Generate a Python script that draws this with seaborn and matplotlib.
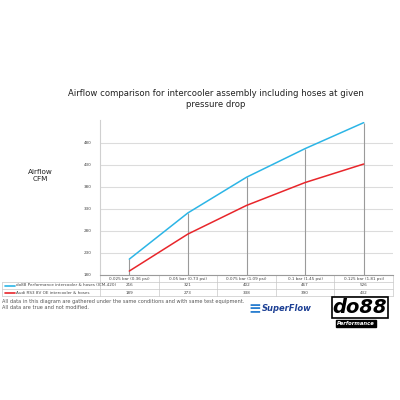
import matplotlib
matplotlib.use("Agg")
import matplotlib.pyplot as plt
import seaborn as sns
import pandas as pd
from matplotlib.lines import Line2D

sns.set_theme(style="white")
plt.rcParams['font.family'] = ['DejaVu Sans']

# data
categories = ["0.025 bar (0.36 psi)", "0.05 bar (0.73 psi)", "0.075 bar (1.09 psi)",
              "0.1 bar (1.45 psi)", "0.125 bar (1.81 psi)"]
do88_cfm = [216, 321, 402, 467, 526]
oe_cfm = [189, 273, 338, 390, 432]
series_names = ["do88 Performance intercooler & hoses (ICM-420)",
                "Audi RS3 8V OE intercooler & hoses"]
series_colors = ["#2cb5e6", "#e8262b"]
y_ticks = [180, 230, 280, 330, 380, 430, 480]

df = pd.DataFrame({
    "pos": list(range(len(categories))) * 2,
    "cfm": do88_cfm + oe_cfm,
    "series": [series_names[0]] * 5 + [series_names[1]] * 5,
})

fig = plt.figure(figsize=(4, 4), dpi=100)
ax = fig.add_axes([0.25, 0.3125, 0.7325, 0.3875])

# drop lines from the top series to the axis
ax.vlines(range(len(categories)), 180, do88_cfm, color="#9a9a9a", lw=0.8, zorder=1)

sns.lineplot(data=df, x="pos", y="cfm", hue="series", palette=series_colors,
             linewidth=1.1, legend=False, ax=ax, zorder=3)

ax.set_xlim(-0.5, len(categories) - 0.5)
ax.set_ylim(180, 532)
ax.set_yticks(y_ticks)
ax.set_yticklabels([str(v) for v in y_ticks], fontsize=3, color="#444444")
ax.tick_params(axis="y", length=0, pad=6)
ax.set_xticks(range(len(categories)))
ax.set_xticklabels(categories, fontsize=3, color="#444444")
ax.tick_params(axis="x", length=0, pad=1.5)
ax.set_xlabel("")
ax.set_ylabel("")
ax.grid(axis="y", color="#dcdcdc", lw=0.8)
for s in ["top", "right"]:
    ax.spines[s].set_visible(False)
ax.spines["left"].set_color("#d0d0d0")
ax.spines["bottom"].set_color("#9a9a9a")
ax.spines["left"].set_linewidth(0.8)
ax.spines["bottom"].set_linewidth(0.8)

# data table below the axis
tr = ax.get_xaxis_transform()
ax_h = 0.3875 * 400
def ay(py):
    # pixel row in figure -> axes fraction
    return (275 - py) / ax_h

left_edge = -2.17
row_lines = [282, 289, 296]
for py in row_lines:
    ax.add_line(Line2D([left_edge, 4.5], [ay(py), ay(py)], transform=tr,
                       color="#c8c8c8", lw=0.5, clip_on=False))
for i in range(len(categories) + 1):
    ax.add_line(Line2D([i - 0.5, i - 0.5], [ay(275), ay(296)], transform=tr,
                       color="#c8c8c8", lw=0.5, clip_on=False))
ax.add_line(Line2D([left_edge, left_edge], [ay(282), ay(296)], transform=tr,
                   color="#c8c8c8", lw=0.5, clip_on=False))

for row, (vals, name, col) in enumerate(zip([do88_cfm, oe_cfm], series_names, series_colors)):
    yy = ay(285.5 + row * 7)
    for i, v in enumerate(vals):
        ax.text(i, yy, str(v), transform=tr, fontsize=3, ha="center", va="center",
                color="#444444")
    ax.add_line(Line2D([-2.12, -1.95], [yy, yy], transform=tr, color=col, lw=1.2,
                       clip_on=False))
    ax.text(-1.93, yy, name, transform=tr, fontsize=3, ha="left", va="center",
            color="#444444")

# titles and notes
fig.text(0.54, 0.753, "Airflow comparison for intercooler assembly including hoses at given\npressure drop",
         ha="center", va="center", fontsize=6.1, color="#222222", linespacing=1.3)
fig.text(0.102, 0.56, "Airflow\nCFM", ha="center", va="center", fontsize=5.2,
         color="#222222", linespacing=1.2)
fig.text(0.005, 0.238, "All data in this diagram are gathered under the same conditions and with same test equipment.\nAll data are true and not modified.",
         ha="left", va="center", fontsize=3.6, color="#555555", linespacing=1.3)

# logos (as text)
fig.text(0.655, 0.228, "SuperFlow", ha="left", va="center", fontsize=6,
         fontweight="bold", style="italic", color="#1c3f94")
fig.text(0.622, 0.228, "≡", ha="left", va="center", fontsize=11,
         fontweight="bold", style="italic", color="#2a7fd0")
fig.text(0.9, 0.232, "do88", ha="center", va="center", fontsize=14,
         fontweight="heavy", style="italic", color="black",
         bbox=dict(boxstyle="square,pad=0.05", fc="white", ec="black", lw=1.2))
fig.text(0.89, 0.192, "Performance", ha="center", va="center", fontsize=3.8,
         fontweight="bold", style="italic", color="white",
         bbox=dict(boxstyle="square,pad=0.2", fc="black", ec="black"))

fig.savefig("out.png", dpi=100, facecolor="white")
